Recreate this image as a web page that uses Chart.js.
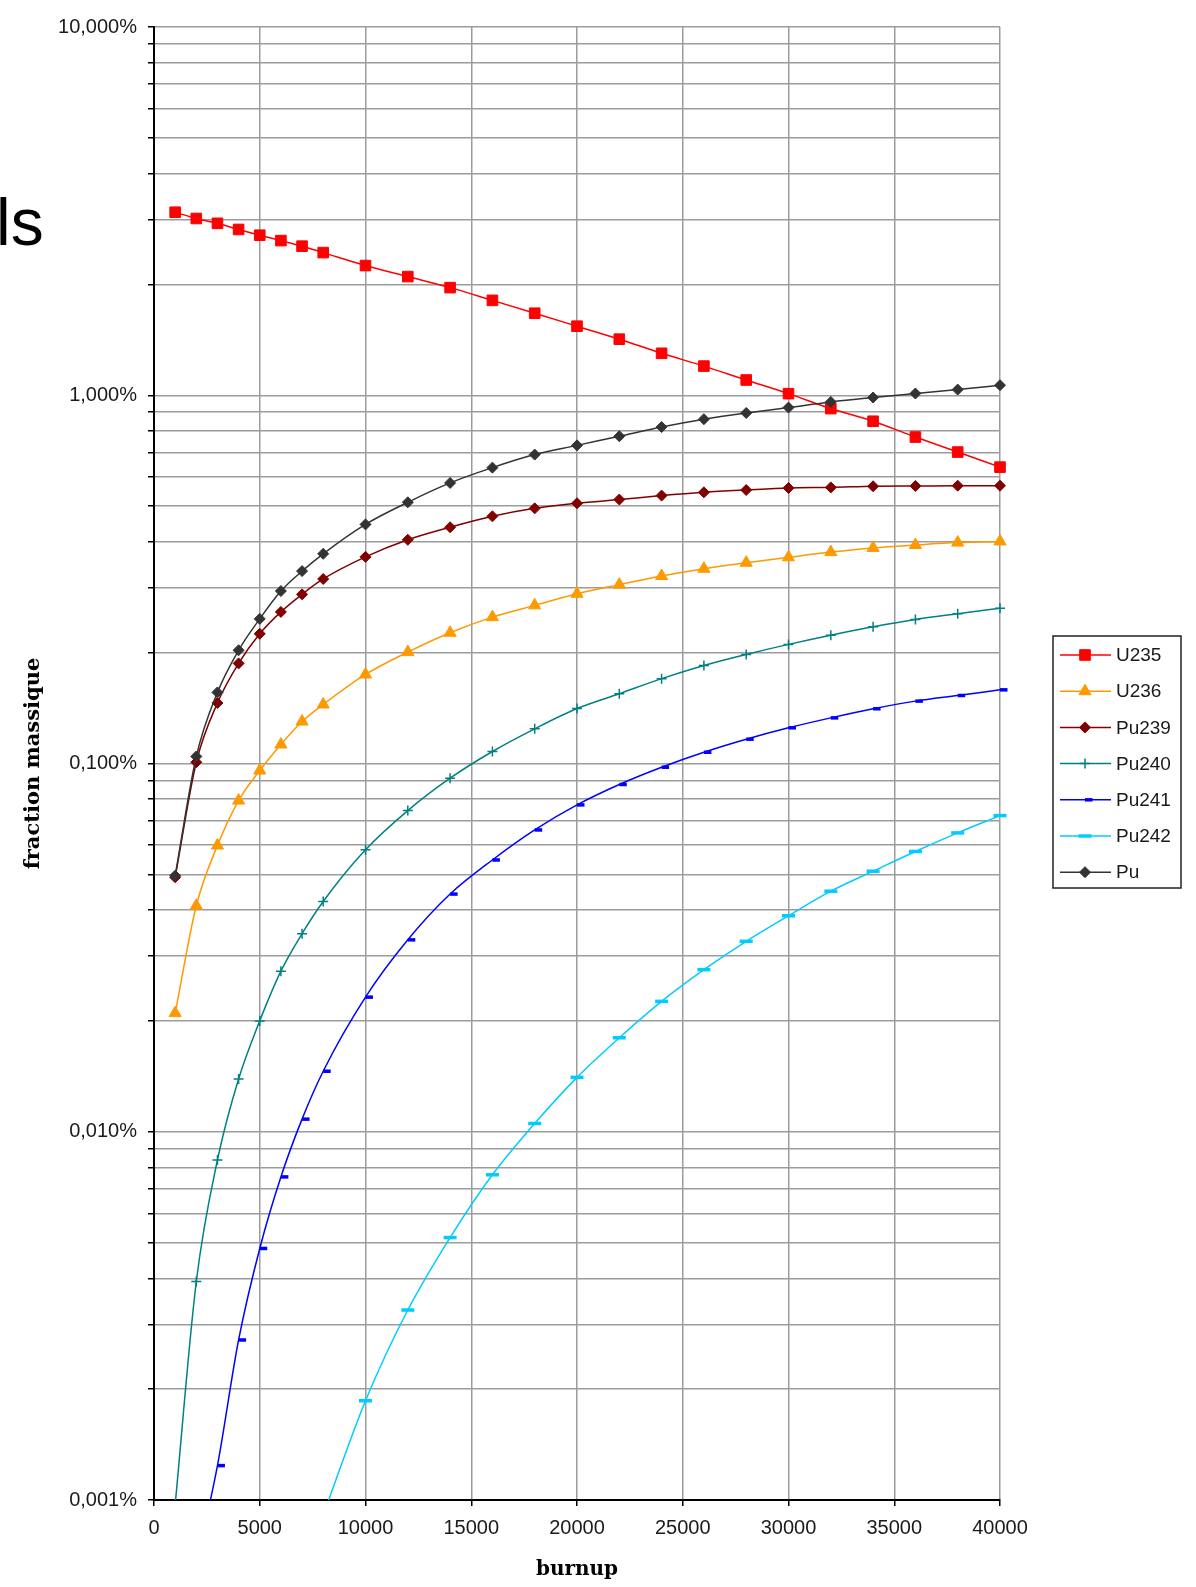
<!DOCTYPE html>
<html>
<head>
<meta charset="utf-8">
<script src="https://cdn.jsdelivr.net/npm/chart.js@4.4.1/dist/chart.umd.min.js"></script>
<style>
  html, body { margin: 0; padding: 0; background: #fff; overflow: hidden; }
  #wrap { position: relative; width: 1196px; height: 1587px; }
  #frag { position: absolute; left: -4px; top: 189px; font-family: "Liberation Sans", Arial, sans-serif; font-size: 66px; line-height: 66px; color: #000; white-space: nowrap; }
</style>
</head>
<body>
<div id="wrap">
  <canvas id="chart"></canvas>
  <div id="frag">ls</div>
</div>
<script>
// burnup steps (x) and mass fractions in %
const burnup = [1000, 2000, 3000, 4000, 5000, 6000, 7000, 8000, 10000, 12000, 14000, 16000,
                18000, 20000, 22000, 24000, 26000, 28000, 30000, 32000, 34000, 36000, 38000, 40000];

const u235  = [3.14, 3.02, 2.93, 2.82, 2.72, 2.63, 2.54, 2.44, 2.25, 2.10, 1.96, 1.81,
               1.67, 1.54, 1.42, 1.30, 1.20, 1.10, 1.01, 0.920, 0.850, 0.770, 0.701, 0.638];
const u236  = [0.0210, 0.0411, 0.0599, 0.0793, 0.0957, 0.1126, 0.130, 0.1446, 0.1745, 0.2007, 0.2265, 0.2497,
               0.2688, 0.289, 0.306, 0.323, 0.338, 0.351, 0.363, 0.375, 0.385, 0.392, 0.398, 0.401];
const pu239 = [0.0491, 0.1008, 0.146, 0.187, 0.225, 0.258, 0.288, 0.317, 0.364, 0.405, 0.438, 0.469,
               0.493, 0.509, 0.521, 0.534, 0.545, 0.553, 0.560, 0.562, 0.566, 0.567, 0.568, 0.568];
const pu240 = [0.00097, 0.00392, 0.00838, 0.0139, 0.0200, 0.0273, 0.0345, 0.0422, 0.0583, 0.0745, 0.0912, 0.1078,
               0.1242, 0.141, 0.1547, 0.170, 0.1846, 0.1978, 0.2106, 0.223, 0.235, 0.246, 0.255, 0.264];
const pu241 = [null, 0.00067, 0.00124, 0.00272, 0.00482, 0.00754, 0.01082, 0.0146, 0.0232, 0.0332, 0.0442, 0.0547,
               0.0660, 0.0772, 0.0877, 0.0977, 0.1073, 0.1164, 0.125, 0.133, 0.1408, 0.1477, 0.153, 0.1585];
const pu242 = [null, null, null, null, null, null, null, 0.00091, 0.00186, 0.00328, 0.00516, 0.00764,
               0.01053, 0.01405, 0.0180, 0.0226, 0.02755, 0.0329, 0.0386, 0.0450, 0.0510, 0.0577, 0.0648, 0.0722];
const pu    = [0.0496, 0.1045, 0.156, 0.203, 0.247, 0.294, 0.333, 0.371, 0.446, 0.512, 0.578, 0.636,
               0.690, 0.731, 0.774, 0.820, 0.861, 0.895, 0.926, 0.959, 0.986, 1.011, 1.036, 1.065];

const seriesNames  = ['U235', 'U236', 'Pu239', 'Pu240', 'Pu241', 'Pu242', 'Pu'];
const seriesValues = [u235, u236, pu239, pu240, pu241, pu242, pu];

// axis ticks
const xTicks = [0, 5000, 10000, 15000, 20000, 25000, 30000, 35000, 40000];
const yDecades = [0.001, 0.01, 0.1, 1, 10];
const yMinorSteps = [1, 2, 3, 4, 5, 6, 7, 8, 9];

// styles
const seriesColors  = ['#ff0000', '#ff9900', '#800000', '#008080', '#0000ff', '#00ccff', '#333333'];
const seriesMarkers = ['rect', 'triangle', 'rectRot', 'cross', 'dash', 'line', 'rectRot'];
const markerRadius  = [7.5, 7, 5.5, 5, 7.5, 6.5, 5.5];
const markerWidth   = [1, 1, 1, 1.5, 3.5, 3.5, 1];

const tickFont = { family: '"Liberation Sans", Arial, sans-serif', size: 20 };
const titleFont = { family: '"DejaVu Serif", serif', size: 20, weight: 'bold' };

function pctLabel(v) {
    return v.toFixed(3).replace('.', ',') + '%';
}

const datasets = seriesNames.map((name, i) => ({
    label: name,
    data: burnup.map((b, j) => ({ x: b, y: seriesValues[i][j] })),
    borderColor: seriesColors[i],
    backgroundColor: seriesColors[i],
    pointBackgroundColor: seriesColors[i],
    pointBorderColor: seriesColors[i],
    borderWidth: 1.5,
    pointStyle: seriesMarkers[i],
    pointRadius: markerRadius[i],
    pointBorderWidth: markerWidth[i],
    cubicInterpolationMode: 'monotone',
    order: seriesNames.length - i,
    clip: { left: 0, top: 0, right: 20, bottom: 0 }
}));

// Excel-like legend: box with line + marker
const legendBox = {
    id: 'legendBox',
    afterDraw(chart) {
        const ctx = chart.ctx;
        const left = chart.chartArea.right + 53;
        const top = 636;
        const w = 128, h = 252;
        ctx.save();
        ctx.fillStyle = '#fff';
        ctx.fillRect(left, top, w, h);
        ctx.strokeStyle = '#222';
        ctx.lineWidth = 1.5;
        ctx.strokeRect(left, top, w, h);
        chart.data.datasets.forEach((ds, i) => {
            const y = top + 19 + i * 36.2;
            ctx.strokeStyle = ds.borderColor;
            ctx.lineWidth = 1.5;
            ctx.beginPath();
            ctx.moveTo(left + 7, y);
            ctx.lineTo(left + 58, y);
            ctx.stroke();
            ctx.fillStyle = ds.pointBackgroundColor;
            ctx.strokeStyle = ds.pointBorderColor;
            ctx.lineWidth = ds.pointBorderWidth;
            Chart.helpers.drawPoint(ctx, {
                pointStyle: ds.pointStyle, radius: ds.pointRadius,
                rotation: 0, borderWidth: ds.pointBorderWidth
            }, left + 32, y);
            ctx.fillStyle = '#1a1a1a';
            ctx.font = '19px "Liberation Sans", Arial, sans-serif';
            ctx.textBaseline = 'middle';
            ctx.textAlign = 'left';
            ctx.fillText(ds.label, left + 63, y + 1);
        });
        ctx.restore();
    }
};

new Chart(document.getElementById('chart'), {
    type: 'line',
    data: { datasets: datasets },
    plugins: [legendBox],
    options: {
        responsive: true,
        maintainAspectRatio: false,
        animation: false,
        events: [],
        layout: { padding: { left: 0, top: 27, right: 196, bottom: 0 } },
        plugins: {
            legend: { display: false },
            tooltip: { enabled: false }
        },
        scales: {
            x: {
                type: 'linear',
                min: 0,
                max: 40000,
                afterBuildTicks: s => { s.ticks = xTicks.map(v => ({ value: v })); },
                afterFit: s => { s.height = 87; },
                ticks: {
                    color: '#1a1a1a', font: tickFont, padding: 10, maxRotation: 0, autoSkip: false,
                    callback: v => String(v)
                },
                grid: { color: '#9c9c9c', lineWidth: 1.5, tickLength: 6, tickColor: '#000', tickWidth: 1.5 },
                border: { color: '#000', width: 2 },
                title: { display: true, text: 'burnup', color: '#000', font: titleFont, padding: { top: 0, bottom: 5 } }
            },
            y: {
                type: 'logarithmic',
                min: 0.001,
                max: 10,
                afterBuildTicks: s => {
                    const t = [];
                    yDecades.forEach((d, k) => {
                        if (k === yDecades.length - 1) {
                            t.push({ value: d, decade: true });
                        } else {
                            yMinorSteps.forEach(m => t.push({ value: d * m, decade: m === 1 }));
                        }
                    });
                    s.ticks = t;
                },
                afterFit: s => { s.width = 154; },
                ticks: {
                    color: '#1a1a1a', font: tickFont, padding: 11, autoSkip: false,
                    callback: (v, i, ticks) => ticks[i].decade ? pctLabel(v) : ''
                },
                grid: { color: '#9c9c9c', lineWidth: 1.5, tickLength: 6, tickColor: '#000', tickWidth: 1.5 },
                border: { color: '#000', width: 2 },
                title: { display: true, text: 'fraction massique', color: '#000', font: { family: '"DejaVu Serif", serif', size: 21, weight: 'bold' }, padding: { top: 21, bottom: 0 } }
            }
        }
    }
});
</script>
</body>
</html>
